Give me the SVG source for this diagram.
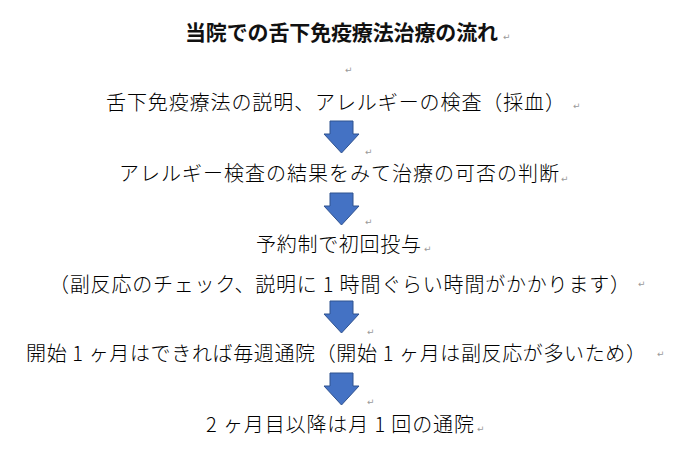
<svg xmlns="http://www.w3.org/2000/svg" xmlns:xlink="http://www.w3.org/1999/xlink" width="696" height="451" viewBox="0 0 696 451">
  <style>
    .title { font-family: "Noto Sans CJK JP", "Noto Sans", sans-serif; font-size: 21px; font-weight: 700; fill: #111; }
    .body { font-family: "Noto Sans CJK JP", "Noto Sans", sans-serif; font-size: 20px; font-weight: 300; fill: #000; }
    .pm { font-family: "DejaVu Sans", sans-serif; font-size: 9px; fill: #9a9a9a; }
    .arrow { fill: #4472C4; stroke: #2F528F; stroke-width: 1; }
  </style>
  <defs>
    <path id="downArrow" d="M330 0 H353 V13 H359 L341.5 32 L324 13 H330 Z"/>
  </defs>
  <rect x="0" y="0" width="696" height="451" fill="#ffffff"/>

  <g id="title">
    <text class="title" x="185" y="40" textLength="313" lengthAdjust="spacing">当院での舌下免疫療法治療の流れ</text>
    <text class="pm" x="503" y="40">↵</text>
  </g>

  <g id="blank-line">
    <text class="pm" x="345" y="73">↵</text>
  </g>

  <g id="step1">
    <text class="body" x="106" y="110" textLength="459" lengthAdjust="spacing">舌下免疫療法の説明、アレルギーの検査（採血）</text>
    <text class="pm" x="573" y="109">↵</text>
  </g>

  <g id="step2">
    <text class="body" x="119" y="181" textLength="440" lengthAdjust="spacing">アレルギー検査の結果をみて治療の可否の判断</text>
    <text class="pm" x="561" y="182">↵</text>
  </g>

  <g id="step3">
    <text class="body" x="256" y="252" textLength="165" lengthAdjust="spacing">予約制で初回投与</text>
    <text class="pm" x="424" y="252">↵</text>
  </g>

  <g id="step3-note">
    <text class="body" x="49" y="292" textLength="581" lengthAdjust="spacing">（副反応のチェック、説明に 1 時間ぐらい時間がかかります）</text>
    <text class="pm" x="638" y="287">↵</text>
  </g>

  <g id="step4">
    <text class="body" x="26" y="361" textLength="620" lengthAdjust="spacing">開始 1 ヶ月はできれば毎週通院（開始 1 ヶ月は副反応が多いため）</text>
    <text class="pm" x="657" y="357">↵</text>
  </g>

  <g id="step5">
    <text class="body" x="206" y="432" textLength="268" lengthAdjust="spacing">2 ヶ月目以降は月 1 回の通院</text>
    <text class="pm" x="477" y="432">↵</text>
  </g>

  <g id="connectors">
    <use xlink:href="#downArrow" href="#downArrow" class="arrow" transform="translate(0,121)"/>
    <text class="pm" x="365" y="155">↵</text>
    <use xlink:href="#downArrow" href="#downArrow" class="arrow" transform="translate(0,193)"/>
    <text class="pm" x="365" y="225">↵</text>
    <use xlink:href="#downArrow" href="#downArrow" class="arrow" transform="translate(0,301)"/>
    <text class="pm" x="367" y="335">↵</text>
    <use xlink:href="#downArrow" href="#downArrow" class="arrow" transform="translate(0,373)"/>
    <text class="pm" x="367" y="405">↵</text>
  </g>
</svg>
